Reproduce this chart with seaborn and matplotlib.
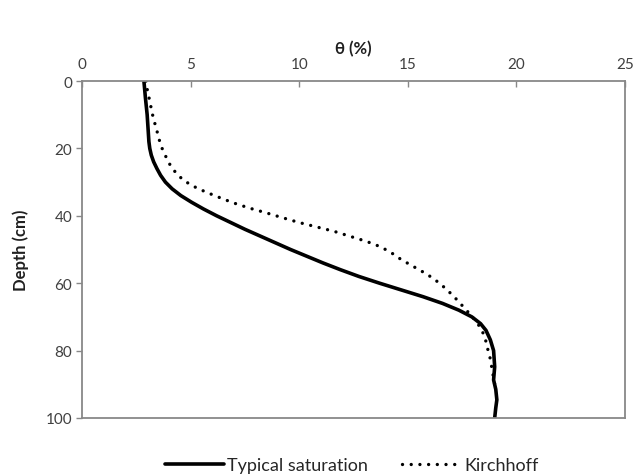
import matplotlib
matplotlib.use("Agg")
import matplotlib.pyplot as plt
import seaborn as sns
import pandas as pd

# Data
typical_depth = [0, 5, 10, 15, 18, 20, 22, 24, 26, 28, 30, 32, 34, 36, 38, 40, 42, 44, 46, 48, 50, 52, 54, 56, 58,
                 60, 62, 64, 66, 68, 70, 72, 74, 76.8, 80, 84.8, 88.7, 91.5, 94.6, 97, 100]
typical_theta = [2.85, 2.92, 3.0, 3.05, 3.08, 3.12, 3.19, 3.3, 3.45, 3.62, 3.84, 4.15, 4.55, 5.05, 5.6, 6.2, 6.85, 7.5, 8.2, 8.9, 9.6, 10.35, 11.1, 11.9, 12.75,
                 13.7, 14.7, 15.7, 16.6, 17.35, 17.95, 18.35, 18.6, 18.8, 18.95, 19.0, 18.95, 19.05, 19.1, 19.05, 19.0]

kirch_depth = [0, 2.4, 6, 9.8, 12.5, 15.3, 18, 20.2, 22.7, 25.2, 27.3, 29.2, 30.8, 32.1, 34, 36.1, 37.7, 39.1, 40.6, 42, 43.3,
               44.6, 46.1, 47.6, 49.2, 51, 53, 55.2, 57.4, 59.7, 61.9, 64.5, 67.3, 70.2, 73.2, 76, 78.8, 82.5, 86.3, 90]
kirch_theta = [2.95, 3.0, 3.12, 3.24, 3.35, 3.47, 3.58, 3.7, 3.88, 4.08, 4.33, 4.63, 5.0, 5.4, 6.1, 6.94, 7.7, 8.47, 9.25, 10.0, 10.8,
               11.6, 12.35, 13.1, 13.75, 14.25, 14.7, 15.3, 15.9, 16.4, 16.8, 17.2, 17.6, 18.0, 18.35, 18.55, 18.65, 18.8, 18.9, 19.0]

x_ticks = [0, 5, 10, 15, 20, 25]
y_ticks = [0, 20, 40, 60, 80, 100]

sns.set_style("white")
plt.rcParams['font.family'] = ['Lato', 'DejaVu Sans']

fig = plt.figure(figsize=(6.34, 4.77), dpi=100)
ax = fig.add_axes([82 / 634, 1 - 419 / 477, (625 - 82) / 634, (419 - 82) / 477])

df_t = pd.DataFrame({"theta": typical_theta, "depth": typical_depth})
df_k = pd.DataFrame({"theta": kirch_theta, "depth": kirch_depth})

sns.lineplot(data=df_t, x="theta", y="depth", sort=False, estimator=None, ax=ax,
             color="black", lw=2.6, label="Typical saturation")
sns.lineplot(data=df_k, x="theta", y="depth", sort=False, estimator=None, ax=ax,
             color="black", lw=2.4, label="Kirchhoff",
             dashes=False)
ax.lines[1].set_linestyle((0, (0.01, 2.6)))
ax.lines[1].set_dash_capstyle("round")

ax.set_xlim(0, 25)
ax.set_ylim(100, 0)
ax.set_xticks(x_ticks)
ax.set_yticks(y_ticks)
ax.xaxis.tick_top()
ax.xaxis.set_label_position("top")
ax.tick_params(axis="x", direction="in", length=4, width=1, color="#888888",
               labelsize=11, labelcolor="#404040", pad=7)
ax.tick_params(axis="y", direction="out", length=4, width=1, color="#888888",
               labelsize=11, labelcolor="#404040", pad=3, left=True)
ax.set_xlabel("θ (%)", fontsize=12, fontweight="bold", labelpad=3, color="#202020")
ax.set_ylabel("Depth (cm)", fontsize=12, fontweight="bold", labelpad=12, color="#202020")
for s in ax.spines.values():
    s.set_color("#888888")
    s.set_linewidth(1.3)

handles, labels = ax.get_legend_handles_labels()
ax.get_legend().remove()
fig.legend(handles, labels, loc="center", bbox_to_anchor=(0.555, 1 - 466 / 477), ncol=2,
           frameon=False, fontsize=13, handlelength=3.3, handletextpad=0.15, columnspacing=1.9)

fig.savefig("out.png", dpi=100)
